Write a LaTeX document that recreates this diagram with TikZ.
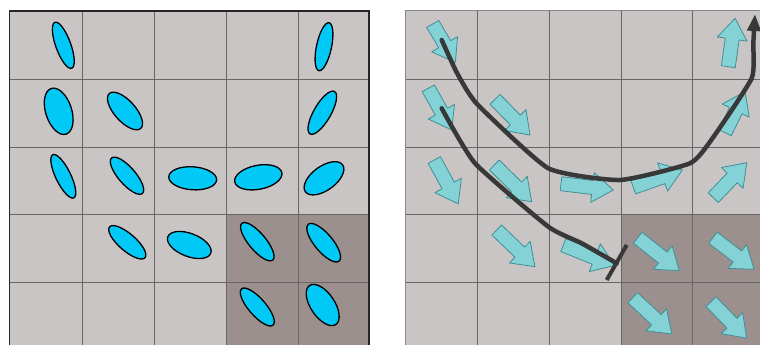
\documentclass[tikz,border=0pt]{standalone}
\usetikzlibrary{arrows.meta}
\definecolor{cellL}{HTML}{C9C5C5}
\definecolor{cellD}{HTML}{9C908F}
\definecolor{gridc}{HTML}{6A6666}
\definecolor{ellc}{HTML}{00C8F7}
\definecolor{arrc}{HTML}{84D2D6}
\definecolor{arre}{HTML}{3F8F95}
\definecolor{pathc}{HTML}{383838}
\tikzset{
  gridline/.style={draw=gridc, line width=0.9pt},
  leftframe/.style={draw=black!85, line width=1.4pt},
  rightframe/.style={draw=gridc!80, line width=1pt},
  ell/.style={fill=ellc, draw=black, line width=1.3pt},
  arrstyle/.style={fill=arrc, draw=arre, line width=0.8pt, line join=round},
  pics/flowarr/.style={code={
    \path[arrstyle] (0pt,-7pt) -- (#1-21pt,-7pt) -- (#1-21pt,-15pt) -- (#1,0pt)
      -- (#1-21pt,15pt) -- (#1-21pt,7pt) -- (0pt,7pt) -- cycle;}},
  pathway/.style={draw=pathc, line width=4.5pt, line cap=round, line join=round}
}
\begin{document}
\begin{tikzpicture}[x=1pt,y=-1pt]
\clip (0,0) rectangle (760,345);
\fill[white] (0,0) rectangle (760,345);
% ---------- left panel ----------
\fill[cellL] (9.5,11) rectangle (369,350);
\fill[cellD] (226,214) rectangle (369,350);
\foreach \gx in {82,154,226,298} \draw[gridline] (\gx,11) -- (\gx,350);
\foreach \gy in {79,147,214,282} \draw[gridline] (9.5,\gy) -- (369,\gy);
\draw[leftframe] (9.5,350) -- (9.5,11) -- (369,11) -- (369,350);
% ellipses: centre, angle, semi axes
\foreach \cx/\cy/\ang/\ra/\rb in {
  63.3/45.3/110/24.5/7.5,
  324/46.7/78/24.5/7.5,
  58.7/111.3/108/24/13,
  125/111/132/23.5/10.5,
  322.3/112.7/60/24.5/8.5,
  63.3/176.3/116/24/7.5,
  127/175.7/131/23.5/8.5,
  192.7/178.3/-4/24/11.5,
  258.3/177.3/11/24/12,
  324/178.3/36/23/12,
  127.3/242.3/139/23.5/8.5,
  189.3/245/-21/23/11.5,
  257.3/241.7/130/24/8.5,
  323.7/242.7/130/24/9,
  257.3/307/131/24/8.5,
  322.7/305/124/23.5/12}
  \draw[ell, shift={(\cx,\cy)}, rotate=\ang] (0,0) ellipse [x radius=\ra pt, y radius=\rb pt];
% ---------- right panel ----------
\fill[cellL] (405,11) rectangle (770,350);
\fill[cellD] (621,214) rectangle (770,350);
\foreach \gx in {477,549,621,692} \draw[gridline] (\gx,11) -- (\gx,350);
\foreach \gy in {79,147,214,282} \draw[gridline] (405,\gy) -- (770,\gy);
\draw[rightframe] (405,350) -- (405,11) -- (770,11);
% arrows: tail, angle, length
\foreach \tx/\ty/\ang/\len in {
  432.7/24/-59.4/44.5,
  428.3/88.3/-60.7/47.8,
  495/99.3/-45.6/50,
  434.3/160/-61.4/50,
  494.3/165/-44.5/52.4,
  561/183.7/-6.9/52.7,
  633.3/187.3/19.4/52,
  713.3/197.7/46.3/48.4,
  725/132.7/64/45.6,
  728.3/66.7/82/48.9,
  496.7/230/-43.8/53,
  563.3/245/-22/55,
  637.7/237.7/-38.4/53,
  713/237.7/-37.6/51.8,
  632.7/297.7/-43/53.3,
  711/301.7/-45.7/51}
  \pic[rotate=\ang] at (\tx,\ty) {flowarr=\len pt};
% pathways
\coordinate (p1start) at (441.7,40);
\coordinate (p1end) at (755,14);
\coordinate (p2start) at (441.7,108.3);
\coordinate (p2end) at (616.7,263.3);
\coordinate (barA) at (626.7,245);
\coordinate (barB) at (606.7,280);
\draw[pathway, -{Triangle[length=17pt,width=13pt]}] plot[smooth, tension=0.3] coordinates {
  (p1start) (457,73) (477,104) (548.3,168.3)
  (620,180) (690,163.3) (712,139) (751.7,78.3)
  (753.3,43.3) (p1end)};
\draw[pathway] plot[smooth, tension=0.3] coordinates {
  (p2start) (475,163.3) (548.3,226.7) (581.7,243.3) (p2end)};
\draw[pathway, line width=4pt, line cap=butt] (barA) -- (barB);
\end{tikzpicture}
\end{document}
